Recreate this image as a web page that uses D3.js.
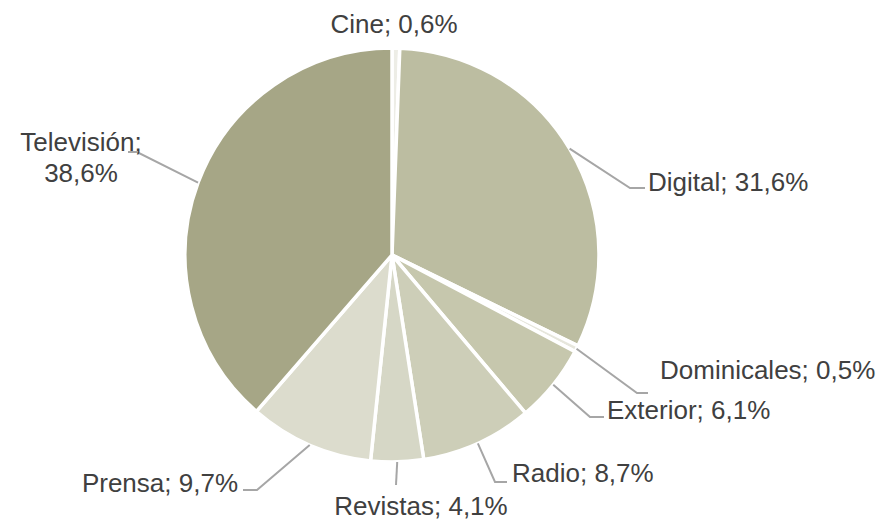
<!DOCTYPE html>
<head>
<style>
* { margin: 0; padding: 0; }
body { background: #fff; }
text { font-family: "Liberation Sans", Arial, sans-serif; }
</style>
</head>
<body>
<svg width="888" height="523"></svg>
<script src="https://d3js.org/d3.v7.min.js"></script>
<script>

var categories = ["Cine", "Digital", "Dominicales", "Exterior", "Radio", "Revistas", "Prensa", "Televisión"];
var values = [0.6, 31.6, 0.5, 6.1, 8.7, 4.1, 9.7, 38.6];
var labels = ["Cine; 0,6%", "Digital; 31,6%", "Dominicales; 0,5%", "Exterior; 6,1%", "Radio; 8,7%", "Revistas; 4,1%", "Prensa; 9,7%", "Televisión;\n38,6%"];

var colors = ["#ededE6", "#bcbda1", "#e6e6dc", "#c6c7ad", "#cdceb8", "#d6d7c6", "#dcdccd", "#a6a686"];

// label layout: elbow point, end of line, text anchor point
var labelPos = [
  {tx: 394, ty: 24, anchor: "middle", line: false},
  {elbow: [630, 188], end: [645, 188], tx: 648, ty: 182, anchor: "start", line: true},
  {elbow: [637, 393], end: [648, 393], tx: 660, ty: 370, anchor: "start", line: true},
  {elbow: [590, 417], end: [604, 417], tx: 607, ty: 410, anchor: "start", line: true},
  {elbow: [495, 482], end: [507, 482], tx: 512, ty: 473, anchor: "start", line: true},
  {elbow: null, end: [396, 485], tx: 421, ty: 506, anchor: "middle", line: true},
  {elbow: [257, 490], end: [243, 490], tx: 238, ty: 483, anchor: "end", line: true},
  {elbow: [137, 152], end: [128, 152], tx: 81, ty: 142, anchor: "middle", line: true}
];

var cx = 392, cy = 255, r = 207;

var svg = d3.select("svg");
var g = svg.append("g").attr("transform", "translate(" + cx + "," + cy + ")");

var pie = d3.pie().sort(null).value(function(d) { return d; });
var arcs = pie(values);
var arc = d3.arc().innerRadius(0).outerRadius(r);

g.selectAll("path.slice")
  .data(arcs)
  .enter().append("path")
    .attr("class", "slice")
    .attr("d", arc)
    .attr("fill", function(d, i) { return colors[i]; })
    .attr("stroke", "#fff")
    .attr("stroke-width", 3.5)
    .attr("stroke-linejoin", "round");

// leader lines
arcs.forEach(function(d, i) {
  var p = labelPos[i];
  if (!p.line) return;
  var a = (d.startAngle + d.endAngle) / 2;
  var sx = cx + r * Math.sin(a), sy = cy - r * Math.cos(a);
  var pts = [[sx, sy]];
  if (p.elbow) pts.push(p.elbow);
  pts.push(p.end);
  svg.append("path")
    .attr("d", d3.line()(pts))
    .attr("fill", "none")
    .attr("stroke", "#a6a6a6")
    .attr("stroke-width", 2);
});

labels.forEach(function(t, i) {
  var p = labelPos[i];
  var lines = t.split("\n");
  var txt = svg.append("text")
    .attr("x", p.tx)
    .attr("y", p.ty)
    .attr("text-anchor", p.anchor)
    .attr("fill", "#404040")
    .attr("font-size", 26);
  lines.forEach(function(l, k) {
    txt.append("tspan")
      .attr("x", p.tx)
      .attr("dy", k === 0 ? "0.35em" : 31)
      .text(l);
  });
});

</script>
</body>
